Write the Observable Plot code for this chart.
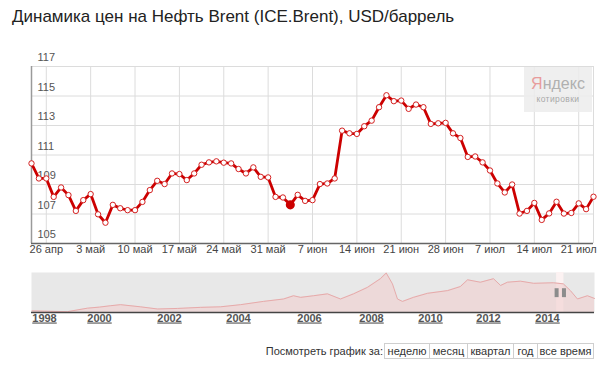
<!DOCTYPE html>
<html><head><meta charset="utf-8">
<script src="https://cdn.jsdelivr.net/npm/d3@7"></script>
<script src="https://cdn.jsdelivr.net/npm/@observablehq/plot@0.6"></script>
<style>
body{margin:0;background:#fff;font-family:Arial,"Liberation Sans",sans-serif;}
#wrap{position:relative;width:605px;height:369px;overflow:hidden;background:#fff}
#main{position:absolute;left:0;top:0}
#nav{position:absolute;left:0;top:262px}
#title{position:absolute;left:12px;top:7px;font-size:17px;color:#222;white-space:nowrap}
#wm{position:absolute;left:524px;top:67px;width:68px;height:45px;background:rgba(236,236,236,0.85);text-align:center;font-family:Arial,"Liberation Sans",sans-serif}
#wm .y{font-size:16px;color:#b0b0b0;margin-top:8px;line-height:18px}
#wm .y span{color:#e89c9c}
#wm .k{font-size:8.5px;color:#a8a8a8;letter-spacing:0.4px;line-height:12px}
#buttons{position:absolute;top:343px;left:0;width:594px;display:flex;justify-content:flex-end;align-items:center;font-size:11px;color:#333}
#buttons .lbl{margin-right:2px}
#buttons .btn{box-sizing:border-box;border:1px solid #cfcfcf;height:16px;line-height:14px;text-align:center;background:#fff;margin-left:-1px;color:#333}
.navplot g[aria-label="text"] text{text-decoration:underline}
</style>
</head><body>
<div id="wrap">
  <div id="main"></div>
  <div id="nav"></div>
  <div id="title">Динамика цен на Нефть Brent (ICE.Brent), USD/баррель</div>
  <div id="wm"><div class="y"><span>Я</span>ндекс</div><div class="k">котировки</div></div>
  <div id="buttons">
    <span class="lbl">Посмотреть график за:</span>
    <span class="btn" style="width:46px">неделю</span>
    <span class="btn" style="width:39px">месяц</span>
    <span class="btn" style="width:47px">квартал</span>
    <span class="btn" style="width:25px">год</span>
    <span class="btn" style="width:57px">все время</span>
  </div>
</div>
<script>
// Daily Brent closes, 24 Apr – 23 Jul 2014 (USD/barrel)
const prices = [110.43,109.41,109.41,108.16,108.8,108.28,107.21,107.94,108.35,106.98,
  106.41,107.62,107.39,107.26,107.26,107.82,108.62,109.25,109.03,109.75,
  109.71,109.3,109.75,110.34,110.5,110.57,110.48,110.43,110.05,109.75,
  110.16,109.52,109.48,108.16,108.12,107.62,108.3,107.89,107.94,109.03,
  109.07,109.41,112.65,112.47,112.43,112.95,113.33,114.24,115.05,114.65,
  114.69,114.13,114.42,114.24,113.11,113.15,113.18,112.47,112.15,110.87,
  110.9,110.5,109.95,109.07,108.46,109.0,107.03,107.21,107.75,106.6,
  107.04,107.83,107.03,107.07,107.72,107.33,108.17];
const highlightIndex = 35;
const dateLabels = ["26 апр","3 май","10 май","17 май","24 май","31 май","7 июн","14 июн","21 июн","28 июн","7 июл","14 июл","21 июл"];
const dateLabelIndex = [2,8,14,20,26,32,38,44,50,56,62,68,74];
const yTicks = [105,107,109,111,113,115,117];

// Overview (navigator) series
const overviewYears = [1997.57,1998.0,1998.83,1999.56,2000.0,2000.31,2000.6,2001.17,2001.66,2002.23,
  2002.9,2003.48,2004.06,2004.7,2005.27,2005.55,2005.75,2006.13,2006.58,2007.0,
  2007.42,2007.87,2008.3,2008.5,2008.71,2008.88,2009.05,2009.42,2009.9,2010.59,
  2011.03,2011.28,2011.72,2012.17,2012.41,2012.64,2013.08,2013.53,2014.2,2014.54,
  2014.78,2015.02,2015.36,2015.6];
const overviewValues = [6,5,3,16,20,25,29,21,13,15,19,21,29,41,50,62,56,62,69,50,
  69,93,125,146,106,50,41,56,71,81,96,121,112,125,100,112,116,108,110,106,
  81,50,62,52];
const yearTicks = [1998,2000,2002,2004,2006,2008,2010,2012,2014];
const selection = [2014.31, 2014.56];

const data = prices.map((v, i) => ({i, v}));
const ticks = dateLabels.map((label, k) => ({i: dateLabelIndex[k], label}));
const overview = overviewYears.map((t, k) => ({t, v: overviewValues[k]}));

// The navigator's time axis is not uniform; warp years onto its timeline
const warp = d3.scaleLinear()
  .domain([1997.55, 1998, 2000, 2002, 2004, 2006, 2008, 2010, 2012, 2014, 2015.6])
  .range([0, 13, 68, 138, 207, 278, 340, 399, 457, 516, 563]);

const red = "#cc0000";
const main = Plot.plot({
  width: 605, height: 262,
  marginLeft: 31, marginRight: 12, marginTop: 66, marginBottom: 19,
  style: {fontFamily: "Arial, 'Liberation Sans', sans-serif", fontSize: "11px", background: "transparent"},
  x: {domain: [0, prices.length - 1], axis: null},
  y: {domain: [105, 117], axis: null},
  marks: [
    Plot.ruleY(yTicks, {stroke: "#dcdcdc", strokeWidth: 1}),
    Plot.ruleX(dateLabelIndex, {stroke: "#dcdcdc", strokeWidth: 1}),
    Plot.ruleX([prices.length - 1], {stroke: "#dcdcdc", strokeWidth: 1}),
    Plot.ruleX([0], {stroke: "#9a9a9a", strokeWidth: 1.5}),
    Plot.ruleY([105], {stroke: "#666", strokeWidth: 1.5}),
    Plot.text(yTicks, {x: 0, y: d => d, text: d => String(d), textAnchor: "start", dx: 6, dy: -9, fill: "#555", fontSize: 11}),
    Plot.text(ticks, {x: "i", text: "label", frameAnchor: "bottom", dy: 9, fill: "#444", fontSize: 11}),
    Plot.line(data, {x: "i", y: "v", stroke: red, strokeWidth: 2.8, strokeLinejoin: "round"}),
    Plot.dot(data, {x: "i", y: "v", r: 2.7, fill: "white", stroke: "#d42020", strokeWidth: 1}),
    Plot.dot([data[highlightIndex]], {x: "i", y: "v", r: 3.8, fill: red, stroke: red})
  ]
});
document.getElementById("main").append(main);

const nav = Plot.plot({
  className: "navplot",
  width: 605, height: 68,
  marginLeft: 31, marginRight: 11, marginTop: 10, marginBottom: 18,
  style: {fontFamily: "Arial, 'Liberation Sans', sans-serif", fontSize: "11px", background: "transparent"},
  x: {type: "linear", transform: warp, axis: null},
  y: {domain: [0, 148], axis: null},
  marks: [
    Plot.frame({fill: "#e8e8e8", stroke: "none"}),
    Plot.rect([selection], {x1: d => d[0], x2: d => d[1], fill: "#fcf2f2"}),
    Plot.areaY(overview, {x: "t", y: "v", fill: "#f0cfcf", fillOpacity: 0.6}),
    Plot.lineY(overview, {x: "t", y: "v", stroke: "#e6aaaa", strokeWidth: 1}),
    Plot.ruleX(selection, {y1: 55, y2: 88, stroke: "#8c8c8c", strokeWidth: 4}),
    Plot.ruleY([0], {stroke: "#444", strokeWidth: 1.5}),
    Plot.text(yearTicks, {x: d => d, text: d => String(d), frameAnchor: "bottom", dy: 9, fill: "#555", fontWeight: "bold", fontSize: 11}),
    Plot.ruleX([1997.55, 2015.6], {stroke: "none"})
  ]
});
document.getElementById("nav").append(nav);
</script>
</body></html>
